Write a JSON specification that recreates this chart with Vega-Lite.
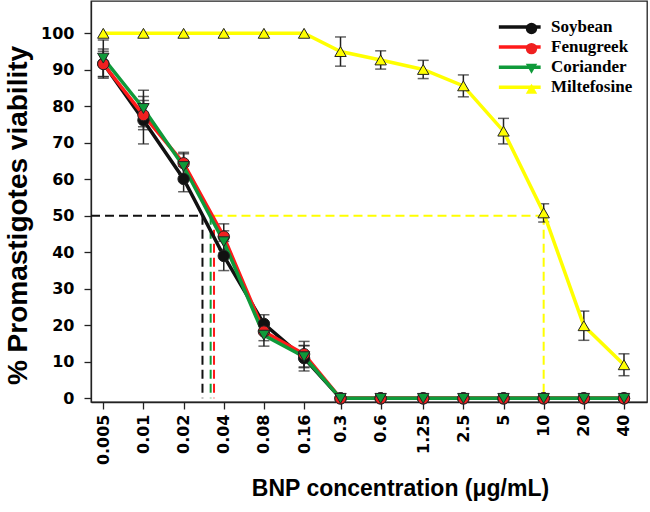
{
  "$schema": "https://vega.github.io/schema/vega-lite/v6.json",
  "autosize": {"type": "none"},
  "width": 556,
  "height": 401,
  "padding": {"left": 91, "top": 1, "right": 3, "bottom": 110},
  "background": "white",
  "config": {
    "view": {"stroke": "#222222", "strokeWidth": 1.3},
    "axis": {
      "domainColor": "#222222", "domainWidth": 1.3, "tickColor": "#222222", "tickWidth": 1.3,
      "grid": false, "labelFont": "DejaVu Sans", "labelFontWeight": "bold", "labelFontSize": 16,
      "labelColor": "black", "titleFont": "Liberation Sans", "titleFontWeight": "bold", "titleColor": "black"
    },
    "legend": {
      "labelFont": "Liberation Serif", "labelFontWeight": "bold", "labelFontSize": 17, "labelColor": "black",
      "padding": 0
    }
  },
  "datasets": {
    "main": [
      {"series": "Soybean", "conc": 0.005, "viability": 91.7, "err": 4},
      {"series": "Soybean", "conc": 0.01, "viability": 76.2, "err": 6.5},
      {"series": "Soybean", "conc": 0.02, "viability": 60.1, "err": 3.5},
      {"series": "Soybean", "conc": 0.04, "viability": 39.0, "err": 4},
      {"series": "Soybean", "conc": 0.08, "viability": 20.4, "err": 2.5},
      {"series": "Soybean", "conc": 0.16, "viability": 11.0, "err": 3.5},
      {"series": "Soybean", "conc": 0.3, "viability": 0, "err": 0},
      {"series": "Soybean", "conc": 0.6, "viability": 0, "err": 0},
      {"series": "Soybean", "conc": 1.25, "viability": 0, "err": 0},
      {"series": "Soybean", "conc": 2.5, "viability": 0, "err": 0},
      {"series": "Soybean", "conc": 5, "viability": 0, "err": 0},
      {"series": "Soybean", "conc": 10, "viability": 0, "err": 0},
      {"series": "Soybean", "conc": 20, "viability": 0, "err": 0},
      {"series": "Soybean", "conc": 40, "viability": 0, "err": 0},
      {"series": "Fenugreek", "conc": 0.005, "viability": 91.6, "err": 3.5},
      {"series": "Fenugreek", "conc": 0.01, "viability": 77.6, "err": 4},
      {"series": "Fenugreek", "conc": 0.02, "viability": 64.4, "err": 3},
      {"series": "Fenugreek", "conc": 0.04, "viability": 44.3, "err": 3.5},
      {"series": "Fenugreek", "conc": 0.08, "viability": 18.3, "err": 2.5},
      {"series": "Fenugreek", "conc": 0.16, "viability": 12.1, "err": 3.5},
      {"series": "Fenugreek", "conc": 0.3, "viability": 0, "err": 0},
      {"series": "Fenugreek", "conc": 0.6, "viability": 0, "err": 0},
      {"series": "Fenugreek", "conc": 1.25, "viability": 0, "err": 0},
      {"series": "Fenugreek", "conc": 2.5, "viability": 0, "err": 0},
      {"series": "Fenugreek", "conc": 5, "viability": 0, "err": 0},
      {"series": "Fenugreek", "conc": 10, "viability": 0, "err": 0},
      {"series": "Fenugreek", "conc": 20, "viability": 0, "err": 0},
      {"series": "Fenugreek", "conc": 40, "viability": 0, "err": 0},
      {"series": "Coriander", "conc": 0.005, "viability": 93.2, "err": 5},
      {"series": "Coriander", "conc": 0.01, "viability": 79.4, "err": 5},
      {"series": "Coriander", "conc": 0.02, "viability": 63.5, "err": 3.5},
      {"series": "Coriander", "conc": 0.04, "viability": 42.9, "err": 3},
      {"series": "Coriander", "conc": 0.08, "viability": 17.3, "err": 3},
      {"series": "Coriander", "conc": 0.16, "viability": 11.4, "err": 3},
      {"series": "Coriander", "conc": 0.3, "viability": 0, "err": 0},
      {"series": "Coriander", "conc": 0.6, "viability": 0, "err": 0},
      {"series": "Coriander", "conc": 1.25, "viability": 0, "err": 0},
      {"series": "Coriander", "conc": 2.5, "viability": 0, "err": 0},
      {"series": "Coriander", "conc": 5, "viability": 0, "err": 0},
      {"series": "Coriander", "conc": 10, "viability": 0, "err": 0},
      {"series": "Coriander", "conc": 20, "viability": 0, "err": 0},
      {"series": "Coriander", "conc": 40, "viability": 0, "err": 0},
      {"series": "Miltefosine", "conc": 0.005, "viability": 100, "err": 0},
      {"series": "Miltefosine", "conc": 0.01, "viability": 100, "err": 0},
      {"series": "Miltefosine", "conc": 0.02, "viability": 100, "err": 0},
      {"series": "Miltefosine", "conc": 0.04, "viability": 100, "err": 0},
      {"series": "Miltefosine", "conc": 0.08, "viability": 100, "err": 0},
      {"series": "Miltefosine", "conc": 0.16, "viability": 100, "err": 0},
      {"series": "Miltefosine", "conc": 0.3, "viability": 95.0, "err": 4},
      {"series": "Miltefosine", "conc": 0.6, "viability": 92.7, "err": 2.5},
      {"series": "Miltefosine", "conc": 1.25, "viability": 90.1, "err": 2.5},
      {"series": "Miltefosine", "conc": 2.5, "viability": 85.6, "err": 3},
      {"series": "Miltefosine", "conc": 5, "viability": 73.2, "err": 3.5},
      {"series": "Miltefosine", "conc": 10, "viability": 50.8, "err": 2.5},
      {"series": "Miltefosine", "conc": 20, "viability": 19.9, "err": 4},
      {"series": "Miltefosine", "conc": 40, "viability": 9.2, "err": 3}
    ],
    "ic50": [
      {"drug": "Soybean", "x": 0.004044, "x2": 0.0277, "y": 50, "y2": 50},
      {"drug": "Soybean", "x": 0.0277, "x2": 0.0277, "y": 50, "y2": 0},
      {"drug": "Coriander", "x": 0.0319, "x2": 0.0319, "y": 50, "y2": 0},
      {"drug": "Fenugreek", "x": 0.0338, "x2": 0.0338, "y": 50, "y2": 0},
      {"drug": "Miltefosine", "x": 0.0335, "x2": 10, "y": 50, "y2": 50},
      {"drug": "Miltefosine", "x": 10, "x2": 10, "y": 50, "y2": 0}
    ]
  },
  "encoding": {
    "x": {
      "field": "conc", "type": "quantitative",
      "scale": {"type": "log", "base": 2, "domain": [0.004044, 59.5], "nice": false},
      "axis": {
        "values": [0.005, 0.01, 0.02, 0.04, 0.08, 0.16, 0.3, 0.6, 1.25, 2.5, 5, 10, 20, 40],
        "labelExpr": "format(datum.value, '~g')",
        "labelAngle": 270, "labelAlign": "right", "labelBaseline": "middle",
        "tickSize": 7, "labelPadding": 5,
        "title": "BNP concentration (μg/mL)", "titleFontSize": 23, "titlePadding": 13, "titleX": 309
      }
    },
    "y": {
      "field": "viability", "type": "quantitative",
      "scale": {"domain": [-1, 108.85], "nice": false, "zero": false},
      "axis": {
        "values": [0, 10, 20, 30, 40, 50, 60, 70, 80, 90, 100],
        "tickSize": 7, "labelPadding": 10,
        "title": "% Promastigotes viability", "titleFontSize": 28, "titlePadding": 8, "titleY": 214
      }
    }
  },
  "layer": [
    {
      "data": {"name": "ic50"},
      "mark": {"type": "rule", "strokeDash": [9, 5], "strokeWidth": 2},
      "encoding": {
        "x": {"field": "x", "type": "quantitative"},
        "x2": {"field": "x2"},
        "y": {"field": "y", "type": "quantitative"},
        "y2": {"field": "y2"},
        "stroke": {"field": "drug", "type": "nominal"}
      }
    },
    {
      "data": {"name": "main"},
      "transform": [{"filter": "datum.err > 0"}],
      "mark": {"type": "errorbar", "ticks": true, "size": 11, "thickness": 1.5, "color": "#222222"},
      "encoding": {
        "yError": {"field": "err"}
      }
    },
    {
      "data": {"name": "main"},
      "mark": {"type": "line", "strokeWidth": 3.5},
      "encoding": {
        "stroke": {
          "field": "series", "type": "nominal",
          "scale": {"domain": ["Soybean", "Fenugreek", "Coriander", "Miltefosine"], "range": ["#111111", "#ff1a1a", "#0f9a3a", "#ffff00"]},
          "legend": {
            "title": null, "orient": "none", "legendX": 420.25, "legendY": 17.5, "rowPadding": 2.1,
            "symbolType": "M-3.8,0H3.8", "symbolSize": 121, "symbolStrokeWidth": 3.5, "labelOffset": 22.75
          }
        }
      }
    },
    {
      "data": {"name": "main"},
      "mark": {"type": "point", "filled": true, "size": 130, "stroke": "#222222", "strokeWidth": 1, "opacity": 1},
      "encoding": {
        "shape": {
          "field": "series", "type": "nominal",
          "scale": {"domain": ["Soybean", "Fenugreek", "Coriander", "Miltefosine"], "range": ["circle", "circle", "triangle-down", "triangle-up"]},
          "legend": {
            "title": null, "orient": "top-right", "offset": 17, "padding": 2, "rowPadding": 2.1,
            "symbolSize": 130, "symbolStrokeColor": "#222222", "symbolStrokeWidth": 1,
            "labelExpr": "''", "labelOffset": 87.3,
            "encode": {
              "symbols": {
                "update": {
                  "fill": {"scale": "fill", "field": "value"},
                  "fillOpacity": {"value": 1},
                  "stroke": {"value": "#222222"},
                  "strokeWidth": {"value": 1}
                }
              }
            }
          }
        },
        "fill": {
          "field": "series", "type": "nominal",
          "scale": {"domain": ["Soybean", "Fenugreek", "Coriander", "Miltefosine"], "range": ["#111111", "#ef2020", "#0f9a3a", "#ffff00"]},
          "legend": null
        }
      }
    }
  ]
}
